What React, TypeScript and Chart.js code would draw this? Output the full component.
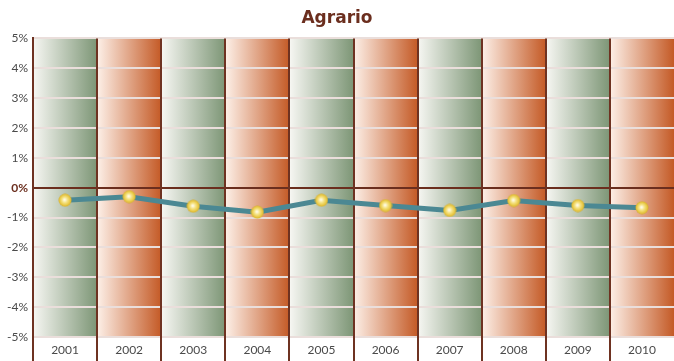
import React, { useEffect, useRef } from "react";
import { Chart, registerables } from "chart.js";

Chart.register(...registerables);

const years = ["2001", "2002", "2003", "2004", "2005", "2006", "2007", "2008", "2009", "2010"];
const values = [-0.42, -0.3, -0.62, -0.82, -0.42, -0.6, -0.76, -0.43, -0.6, -0.67];
const yMin = -5;
const yMax = 5;
const title = "Agrario";

const columnGradients = [
  ["#f7f7f3", "#7d9676"],
  ["#fdf0e8", "#c45a26"],
];
const dividerColor = "#6e3221";
const brown = "#6b2e1e";
const FONT = "Lato, 'DejaVu Sans', sans-serif";
const TITLE_FONT = "'DejaVu Sans', sans-serif";

function makeDot(): HTMLCanvasElement {
  const c = document.createElement("canvas");
  c.width = 14;
  c.height = 14;
  const g = c.getContext("2d")!;
  const grad = g.createRadialGradient(6.5, 6.5, 0.5, 7, 7, 6.5);
  grad.addColorStop(0, "#fffbe8");
  grad.addColorStop(0.35, "#f6e58a");
  grad.addColorStop(0.8, "#e7c640");
  grad.addColorStop(1, "#d4ad2c");
  g.fillStyle = grad;
  g.beginPath();
  g.arc(7, 7, 6.5, 0, Math.PI * 2);
  g.fill();
  return c;
}

const columnsPlugin = {
  id: "columns",
  beforeDraw(chart: any) {
    const { ctx, chartArea } = chart;
    const xs = chart.scales.x;
    const n = years.length;
    const w = xs.width / n;
    ctx.save();
    for (let i = 0; i < n; i++) {
      const cx = xs.getPixelForValue(i);
      const left = cx - w / 2;
      const [c0, c1] = columnGradients[i % 2];
      const g = ctx.createLinearGradient(left, 0, left + w, 0);
      g.addColorStop(0, c0);
      g.addColorStop(1, c1);
      ctx.fillStyle = g;
      ctx.fillRect(left, chartArea.top, w, chartArea.bottom - chartArea.top);
    }
    ctx.restore();
  },
  beforeDatasetsDraw(chart: any) {
    const { ctx, chartArea } = chart;
    const xs = chart.scales.x;
    const n = years.length;
    const w = xs.width / n;
    ctx.save();
    ctx.strokeStyle = dividerColor;
    ctx.lineWidth = 2;
    for (let i = 0; i < n; i++) {
      const x = Math.round(xs.getPixelForValue(i) - w / 2);
      ctx.beginPath();
      ctx.moveTo(x, chartArea.top);
      ctx.lineTo(x, chart.height);
      ctx.stroke();
    }
    ctx.restore();
  },
};

export default function App() {
  const ref = useRef<HTMLCanvasElement | null>(null);
  useEffect(() => {
    if (!ref.current) return;
    const dot = makeDot();
    const chart = new Chart(ref.current, {
      type: "line",
      data: {
        labels: years,
        datasets: [
          {
            data: values,
            borderColor: "#4b8893",
            borderWidth: 5,
            tension: 0,
            pointStyle: dot as any,
            pointRadius: 7,
            pointHoverRadius: 7,
          },
        ],
      },
      options: {
        responsive: false,
        animation: false,
        layout: { autoPadding: false, padding: { left: 0, right: 0, top: 0, bottom: 0 } },
        plugins: {
          legend: { display: false },
          tooltip: { enabled: false },
          title: {
            display: true,
            text: title,
            color: brown,
            font: { family: TITLE_FONT, size: 17, weight: "bold" },
            padding: { top: 8, bottom: 10 },
          },
        },
        scales: {
          x: {
            type: "category",
            offset: true,
            grid: { display: false, drawTicks: false },
            border: { display: false },
            afterFit: (s: any) => {
              s.height = 24;
            },
            ticks: {
              color: "#4a4a4a",
              font: { family: FONT, size: 12 },
              padding: 6,
              maxRotation: 0,
            },
          },
          y: {
            min: yMin,
            max: yMax,
            afterFit: (s: any) => {
              s.width = 33;
            },
            border: { display: true, color: dividerColor, width: 2 },
            grid: {
              drawTicks: false,
              lineWidth: 2,
              color: (c: any) => (c.tick && c.tick.value === 0 ? brown : "#eadedb"),
            },
            ticks: {
              stepSize: 1,
              padding: 5,
              color: (c: any) => (c.tick && c.tick.value === 0 ? brown : "#4a4a4a"),
              font: (c: any) =>
                c.tick && c.tick.value === 0
                  ? { family: FONT, size: 12, weight: "bold" }
                  : { family: FONT, size: 12 },
              callback: (v: any) => v + "%",
            },
          },
        },
      },
      plugins: [columnsPlugin],
    });
    return () => chart.destroy();
  }, []);
  return (
    <canvas
      ref={ref}
      width={674}
      height={361}
      style={{ position: "fixed", left: 0, top: 0, width: 674, height: 361, background: "#fff" }}
    />
  );
}
